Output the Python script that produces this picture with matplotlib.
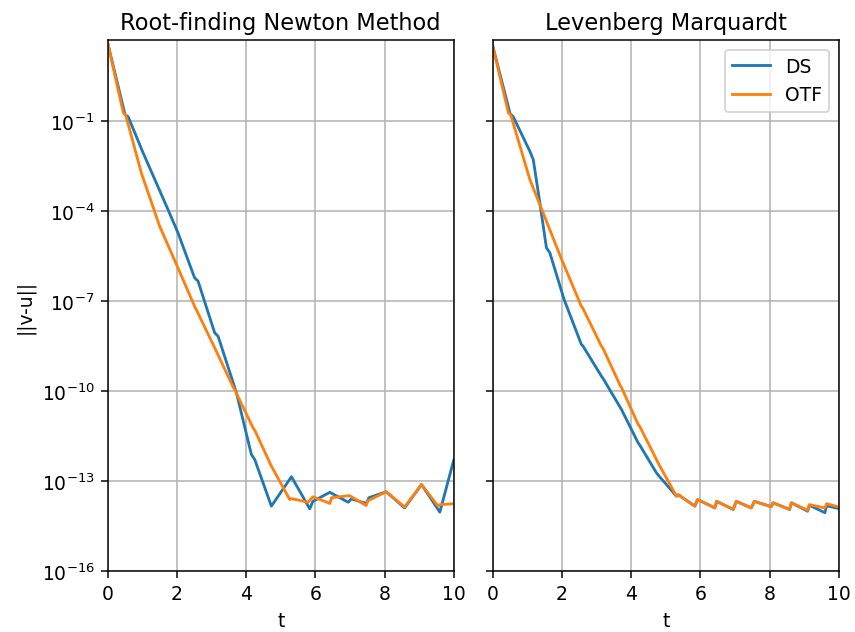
import numpy as np
import matplotlib
matplotlib.use("Agg")
import matplotlib.pyplot as plt

# values, as log10(||v-u||)
newton_ds_t = [0.0, 0.5, 0.59, 1.02, 1.74, 2.03, 2.51, 2.61, 3.09, 3.19, 3.72, 4.15, 4.25,
               4.73, 5.31, 5.84, 5.93, 6.42, 6.95, 7.04, 7.47, 7.55, 8.05, 8.58, 9.07, 9.6, 10.0]
newton_ds_log = [1.6, -0.78, -0.85, -2.05, -3.94, -4.72, -6.22, -6.33, -8.05, -8.17, -10.05, -12.1,
                 -12.28, -13.83, -12.85, -13.92, -13.67, -13.37, -13.7, -13.59, -13.74, -13.55,
                 -13.35, -13.89, -13.11, -14.03, -12.3]

newton_otf_t = [0.0, 0.45, 0.52, 0.97, 1.5, 2.03, 2.51, 2.56, 3.09, 3.62, 3.67, 4.2, 4.25, 4.73,
                4.78, 5.26, 5.31, 5.79, 5.93, 6.42, 6.47, 6.99, 7.47, 7.52, 8.05, 8.58, 9.07,
                9.55, 9.6, 10.0]
newton_otf_log = [1.6, -0.72, -0.8, -2.72, -4.5, -5.89, -7.17, -7.28, -8.55, -9.85, -9.95, -11.22,
                  -11.3, -12.5, -12.6, -13.61, -13.58, -13.7, -13.52, -13.74, -13.55, -13.48,
                  -13.81, -13.65, -13.35, -13.86, -13.11, -13.83, -13.78, -13.75]

lm_ds_t = [0.0, 0.5, 0.59, 1.07, 1.17, 1.36, 1.55, 1.65, 2.06, 2.56, 2.61, 3.14, 3.19, 3.72,
           4.2, 4.25, 4.73, 4.8, 5.31, 5.36, 5.84, 5.92, 6.42, 6.47, 6.95, 7.04, 7.47, 7.56,
           8.05, 8.1, 8.58, 8.63, 9.1, 9.15, 9.6, 9.65, 10.0]
lm_ds_log = [1.5, -0.75, -0.85, -2.0, -2.28, -3.72, -5.22, -5.39, -6.94, -8.44, -8.5, -9.5, -9.58,
             -10.61, -11.72, -11.8, -12.72, -12.82, -13.5, -13.45, -13.83, -13.61, -13.89, -13.67,
             -13.94, -13.67, -13.89, -13.67, -13.85, -13.72, -13.94, -13.72, -14.0, -13.8, -14.05,
             -13.82, -13.91]

lm_otf_t = [0.0, 0.45, 0.52, 1.07, 1.99, 2.56, 2.61, 3.14, 3.19, 3.67, 3.72, 4.2, 4.25, 4.78,
            4.83, 5.31, 5.36, 5.84, 5.92, 6.42, 6.47, 6.95, 7.04, 7.47, 7.56, 8.05, 8.1, 8.58,
            8.63, 9.1, 9.15, 9.6, 9.65, 10.0]
lm_otf_log = [1.5, -0.72, -0.8, -2.94, -5.61, -7.17, -7.25, -8.5, -8.58, -9.78, -9.88, -11.1,
              -11.18, -12.39, -12.5, -13.5, -13.45, -13.83, -13.61, -13.89, -13.67, -13.94,
              -13.67, -13.89, -13.67, -13.85, -13.72, -13.94, -13.72, -13.97, -13.78, -13.89,
              -13.75, -13.86]

# rendered at 135 dpi so fonts and lines come out as big as in the original
fig, (ax1, ax2) = plt.subplots(1, 2, sharey=True, figsize=(8.55 / 1.35, 6.33 / 1.35), dpi=135)
fig.subplots_adjust(left=0.126, right=0.981, top=0.935, bottom=0.096, wspace=0.113)

ax1.plot(newton_ds_t, 10.0 ** np.array(newton_ds_log), label="DS")
ax1.plot(newton_otf_t, 10.0 ** np.array(newton_otf_log), label="OTF")
ax1.set_title("Root-finding Newton Method")

ax2.plot(lm_ds_t, 10.0 ** np.array(lm_ds_log), label="DS")
ax2.plot(lm_otf_t, 10.0 ** np.array(lm_otf_log), label="OTF")
ax2.set_title("Levenberg Marquardt")
ax2.legend(loc="upper right")

for ax in (ax1, ax2):
    ax.set_yscale("log")
    ax.set_xlim(0, 10)
    ax.set_ylim(1e-16, 10 ** 1.7)
    ax.set_yticks([1e-16, 1e-13, 1e-10, 1e-7, 1e-4, 1e-1])
    ax.minorticks_off()
    ax.grid(True)
    ax.set_xlabel("t")
ax1.set_ylabel("||v-u||")

plt.savefig("out.png", dpi=135)
